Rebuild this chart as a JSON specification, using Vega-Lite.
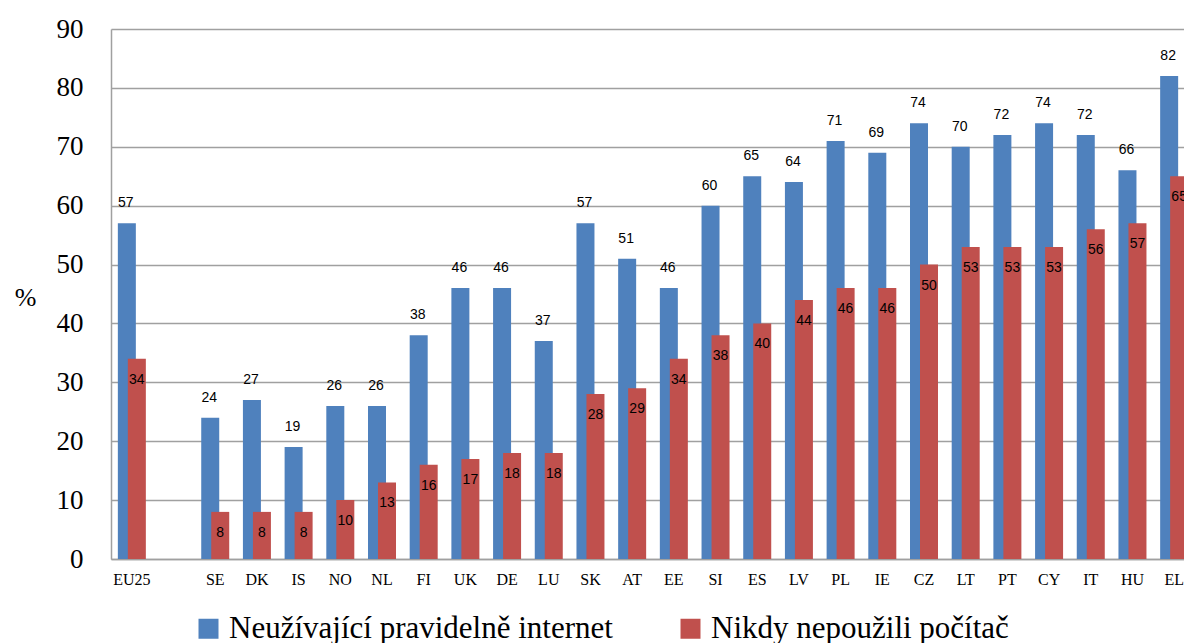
{
  "$schema": "https://vega.github.io/schema/vega-lite/v6.json",
  "width": 1084,
  "height": 530,
  "autosize": {"type": "none"},
  "padding": {"left": 111, "top": 29, "right": 0, "bottom": 84},
  "config": {
    "view": {"stroke": null},
    "font": "Liberation Serif"
  },
  "data": {
    "values": [
      {"country": "EU25", "series": "Neužívající pravidelně internet", "value": 57},
      {"country": "EU25", "series": "Nikdy nepoužili počítač", "value": 34},
      {"country": "SE", "series": "Neužívající pravidelně internet", "value": 24},
      {"country": "SE", "series": "Nikdy nepoužili počítač", "value": 8},
      {"country": "DK", "series": "Neužívající pravidelně internet", "value": 27},
      {"country": "DK", "series": "Nikdy nepoužili počítač", "value": 8},
      {"country": "IS", "series": "Neužívající pravidelně internet", "value": 19},
      {"country": "IS", "series": "Nikdy nepoužili počítač", "value": 8},
      {"country": "NO", "series": "Neužívající pravidelně internet", "value": 26},
      {"country": "NO", "series": "Nikdy nepoužili počítač", "value": 10},
      {"country": "NL", "series": "Neužívající pravidelně internet", "value": 26},
      {"country": "NL", "series": "Nikdy nepoužili počítač", "value": 13},
      {"country": "FI", "series": "Neužívající pravidelně internet", "value": 38},
      {"country": "FI", "series": "Nikdy nepoužili počítač", "value": 16},
      {"country": "UK", "series": "Neužívající pravidelně internet", "value": 46},
      {"country": "UK", "series": "Nikdy nepoužili počítač", "value": 17},
      {"country": "DE", "series": "Neužívající pravidelně internet", "value": 46},
      {"country": "DE", "series": "Nikdy nepoužili počítač", "value": 18},
      {"country": "LU", "series": "Neužívající pravidelně internet", "value": 37},
      {"country": "LU", "series": "Nikdy nepoužili počítač", "value": 18},
      {"country": "SK", "series": "Neužívající pravidelně internet", "value": 57},
      {"country": "SK", "series": "Nikdy nepoužili počítač", "value": 28},
      {"country": "AT", "series": "Neužívající pravidelně internet", "value": 51},
      {"country": "AT", "series": "Nikdy nepoužili počítač", "value": 29},
      {"country": "EE", "series": "Neužívající pravidelně internet", "value": 46},
      {"country": "EE", "series": "Nikdy nepoužili počítač", "value": 34},
      {"country": "SI", "series": "Neužívající pravidelně internet", "value": 60},
      {"country": "SI", "series": "Nikdy nepoužili počítač", "value": 38},
      {"country": "ES", "series": "Neužívající pravidelně internet", "value": 65},
      {"country": "ES", "series": "Nikdy nepoužili počítač", "value": 40},
      {"country": "LV", "series": "Neužívající pravidelně internet", "value": 64},
      {"country": "LV", "series": "Nikdy nepoužili počítač", "value": 44},
      {"country": "PL", "series": "Neužívající pravidelně internet", "value": 71},
      {"country": "PL", "series": "Nikdy nepoužili počítač", "value": 46},
      {"country": "IE", "series": "Neužívající pravidelně internet", "value": 69},
      {"country": "IE", "series": "Nikdy nepoužili počítač", "value": 46},
      {"country": "CZ", "series": "Neužívající pravidelně internet", "value": 74},
      {"country": "CZ", "series": "Nikdy nepoužili počítač", "value": 50},
      {"country": "LT", "series": "Neužívající pravidelně internet", "value": 70},
      {"country": "LT", "series": "Nikdy nepoužili počítač", "value": 53},
      {"country": "PT", "series": "Neužívající pravidelně internet", "value": 72},
      {"country": "PT", "series": "Nikdy nepoužili počítač", "value": 53},
      {"country": "CY", "series": "Neužívající pravidelně internet", "value": 74},
      {"country": "CY", "series": "Nikdy nepoužili počítač", "value": 53},
      {"country": "IT", "series": "Neužívající pravidelně internet", "value": 72},
      {"country": "IT", "series": "Nikdy nepoužili počítač", "value": 56},
      {"country": "HU", "series": "Neužívající pravidelně internet", "value": 66},
      {"country": "HU", "series": "Nikdy nepoužili počítač", "value": 57},
      {"country": "EL", "series": "Neužívající pravidelně internet", "value": 82},
      {"country": "EL", "series": "Nikdy nepoužili počítač", "value": 65}
    ]
  },
  "encoding": {
    "x": {
      "field": "country",
      "type": "nominal",
      "sort": null,
      "scale": {
        "domain": ["EU25", " ", "SE", "DK", "IS", "NO", "NL", "FI", "UK", "DE", "LU", "SK", "AT", "EE", "SI", "ES", "LV", "PL", "IE", "CZ", "LT", "PT", "CY", "IT", "HU", "EL"],
        "paddingInner": 0,
        "paddingOuter": 0
      },
      "axis": {
        "title": null,
        "labelAngle": 0,
        "ticks": false,
        "labelFont": "Liberation Serif",
        "labelFontSize": 16,
        "labelColor": "#000000",
        "labelPadding": 12,
        "domainColor": "#A0A0A0",
        "domainWidth": 1.5
      }
    },
    "y": {
      "field": "value",
      "type": "quantitative",
      "scale": {"domain": [0, 90], "nice": false},
      "axis": {
        "values": [0, 10, 20, 30, 40, 50, 60, 70, 80, 90],
        "grid": true,
        "gridColor": "#A0A0A0",
        "gridWidth": 1.5,
        "domainColor": "#A0A0A0",
        "domainWidth": 1.5,
        "ticks": false,
        "labelFont": "Liberation Serif",
        "labelFontSize": 27,
        "labelColor": "#000000",
        "labelPadding": 28,
        "title": "%",
        "titleAngle": 0,
        "titleFont": "Liberation Serif",
        "titleFontSize": 26,
        "titleFontWeight": "normal",
        "titleColor": "#000000",
        "titleX": -86,
        "titleY": 268,
        "titleAlign": "center",
        "titleBaseline": "middle"
      }
    }
  },
  "layer": [
    {
      "transform": [{"filter": "datum.series === 'Neužívající pravidelně internet'"}],
      "mark": {"type": "bar", "width": 18, "xOffset": -5},
      "encoding": {
        "color": {
          "field": "series",
          "type": "nominal",
          "scale": {
            "domain": ["Neužívající pravidelně internet", "Nikdy nepoužili počítač"],
            "range": ["#4F81BD", "#C0504D"]
          },
          "legend": {
            "title": null,
            "orient": "none",
            "direction": "horizontal",
            "legendX": 82,
            "legendY": 584,
            "symbolType": "square",
            "symbolSize": 400,
            "symbolStrokeWidth": 0,
            "symbolOpacity": 1,
            "labelFont": "Liberation Serif",
            "labelFontSize": 31,
            "labelColor": "#000000",
            "labelOffset": 5,
            "labelLimit": 600,
            "columnPadding": 62
          }
        }
      }
    },
    {
      "transform": [{"filter": "datum.series === 'Nikdy nepoužili počítač'"}],
      "mark": {"type": "bar", "width": 18, "xOffset": 5},
      "encoding": {
        "color": {"field": "series", "type": "nominal"}
      }
    },
    {
      "transform": [{"filter": "datum.series === 'Neužívající pravidelně internet'"}],
      "mark": {"type": "text", "dy": -20, "xOffset": -6, "font": "Liberation Sans", "fontSize": 14, "color": "#000000"},
      "encoding": {"text": {"field": "value", "type": "quantitative"}}
    },
    {
      "transform": [{"filter": "datum.series === 'Nikdy nepoužili počítač'"}],
      "mark": {"type": "text", "dy": 21, "xOffset": 5, "font": "Liberation Sans", "fontSize": 14, "color": "#000000"},
      "encoding": {"text": {"field": "value", "type": "quantitative"}}
    }
  ]
}
